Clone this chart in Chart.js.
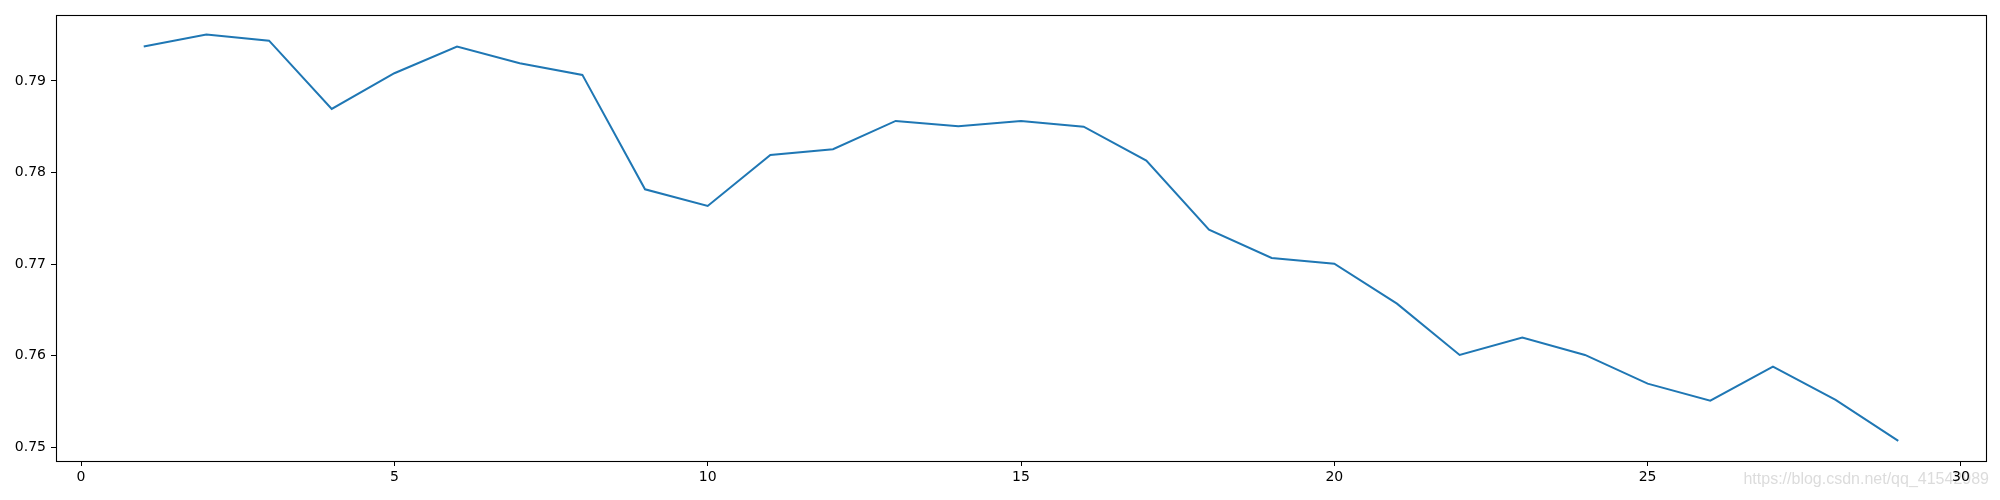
<!DOCTYPE html>
<html>
<head>
<meta charset="utf-8">
<script src="https://cdn.jsdelivr.net/npm/chart.js@4/dist/chart.umd.min.js"></script>
<style>
  html, body { margin: 0; padding: 0; background: #ffffff; }
  #wrap { width: 2000px; height: 500px; position: relative; }
</style>
</head>
<body>
<div id="wrap"><canvas id="c" width="2000" height="500"></canvas></div>
<script>
// Data
const epochs = [1,2,3,4,5,6,7,8,9,10,11,12,13,14,15,16,17,18,19,20,21,22,23,24,25,26,27,28,29];
const values = [0.79375,0.79506,0.7944,0.78694,0.79084,0.79375,0.79193,0.79066,0.77817,0.77635,
                0.78192,0.78254,0.78563,0.78505,0.78563,0.78501,0.7813,0.77376,0.77067,0.77005,
                0.76568,0.76008,0.76197,0.76008,0.75695,0.75509,0.7588,0.75517,0.75069];
const xTicks = [0,5,10,15,20,25,30];
const yTicks = [0.75,0.76,0.77,0.78,0.79];
const yTickLabels = ['0.75','0.76','0.77','0.78','0.79'];
const watermark = 'https://blog.csdn.net/qq_41542989';

const points = epochs.map((e, i) => ({ x: e, y: values[i] }));

const frame = {
  id: 'frame',
  beforeDraw(chart) {
    const ctx = chart.ctx;
    ctx.save();
    ctx.fillStyle = '#ffffff';
    ctx.fillRect(0, 0, chart.width, chart.height);
    ctx.font = '16px "Liberation Sans", Arial, sans-serif';
    ctx.fillStyle = '#dcdcdc';
    ctx.textBaseline = 'alphabetic';
    ctx.textAlign = 'right';
    ctx.fillText(watermark, 1989, 484);
    ctx.restore();
  },
  afterDraw(chart) {
    const a = chart.chartArea;
    const ctx = chart.ctx;
    ctx.save();
    ctx.strokeStyle = '#000000';
    ctx.lineWidth = 1.1;
    ctx.strokeRect(Math.round(a.left) + 0.5, Math.round(a.top) + 0.5,
                   Math.round(a.right - a.left), Math.round(a.bottom - a.top));
    ctx.restore();
  }
};

new Chart(document.getElementById('c'), {
  type: 'line',
  data: {
    datasets: [{
      data: points,
      borderColor: '#1f77b4',
      backgroundColor: '#1f77b4',
      borderWidth: 2,
      pointRadius: 0,
      tension: 0,
      fill: false
    }]
  },
  options: {
    responsive: false,
    animation: false,
    devicePixelRatio: 1,
    layout: { padding: { top: 15, right: 14, left: 0, bottom: 0 } },
    plugins: { legend: { display: false }, tooltip: { enabled: false } },
    scales: {
      x: {
        type: 'linear',
        min: -0.4,
        max: 30.4,
        afterBuildTicks(scale) { scale.ticks = xTicks.map(v => ({ value: v })); },
        afterFit(scale) { scale.height = 39; },
        grid: { display: true, drawOnChartArea: false, drawTicks: true, tickLength: 5, tickColor: '#000', tickWidth: 1 },
        border: { display: true, color: '#000', width: 1 },
        ticks: { color: '#000', padding: 3, maxRotation: 0, font: { family: '"DejaVu Sans"', size: 14 },
                 callback: v => String(v) }
      },
      y: {
        type: 'linear',
        min: 0.7485,
        max: 0.7972,
        afterBuildTicks(scale) { scale.ticks = yTicks.map(v => ({ value: v })); },
        afterFit(scale) { scale.width = 56; },
        grid: { display: true, drawOnChartArea: false, drawTicks: true, tickLength: 5, tickColor: '#000', tickWidth: 1 },
        border: { display: true, color: '#000', width: 1 },
        ticks: { color: '#000', padding: 5, font: { family: '"DejaVu Sans"', size: 14 },
                 callback: (v) => { const i = yTicks.indexOf(v); return i >= 0 ? yTickLabels[i] : ''; } }
      }
    }
  },
  plugins: [frame]
});
</script>
</body>
</html>
